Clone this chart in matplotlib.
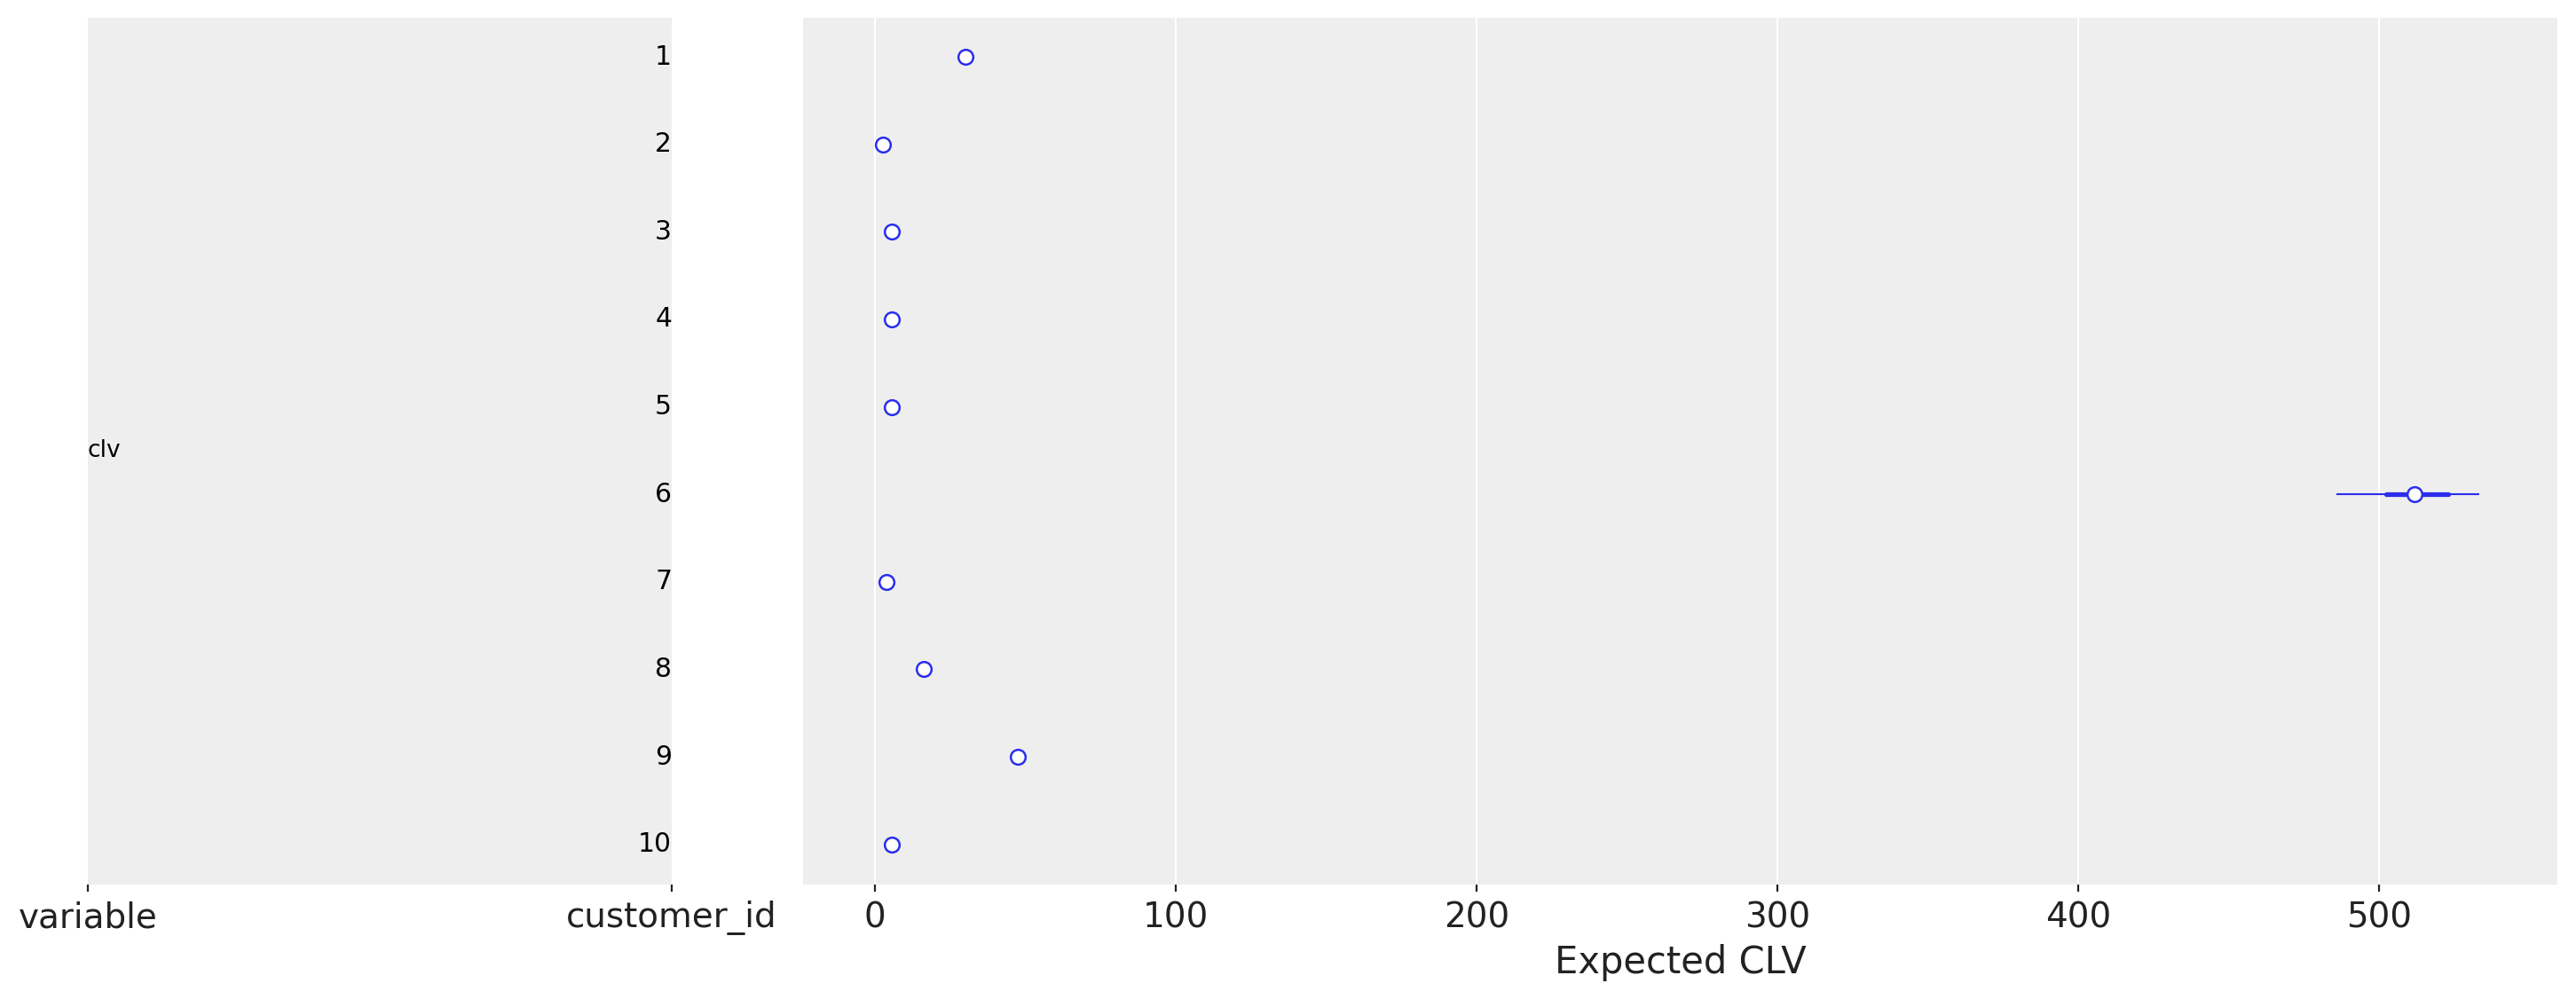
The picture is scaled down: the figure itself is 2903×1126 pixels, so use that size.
import matplotlib.pyplot as plt
import numpy as np

# expected customer lifetime value, posterior summary per customer
customer_ids = ["1", "2", "3", "4", "5", "6", "7", "8", "9", "10"]
clv_median = [30.0, 2.7, 5.5, 5.5, 5.5, 511.8, 3.8, 16.4, 47.5, 5.5]
hdi94_low = [29.6, 2.5, 5.3, 5.3, 5.3, 485.8, 3.6, 16.1, 47.0, 5.3]
hdi94_high = [30.4, 2.9, 5.7, 5.7, 5.7, 533.4, 4.0, 16.7, 48.0, 5.7]
hdi50_low = [29.9, 2.6, 5.4, 5.4, 5.4, 502.4, 3.7, 16.3, 47.3, 5.4]
hdi50_high = [30.1, 2.8, 5.6, 5.6, 5.6, 523.0, 3.9, 16.5, 47.7, 5.6]
var_name = "clv"
col_labels = ["variable", "customer_id"]
x_ticks = [0, 100, 200, 300, 400, 500]

BG = "#eeeeee"
BLUE = "#2a2eec"
TXT = "#222222"

fig = plt.figure(figsize=(14.515, 5.63), dpi=200)
ax_lab = fig.add_axes([0.0341, 0.1146, 0.2267, 0.8676])
ax = fig.add_axes([0.3117, 0.1146, 0.6811, 0.8676])

n = len(customer_ids)
ypos = np.arange(n)
ylim = (n - 1 + 0.459, -0.446)

# label panel
ax_lab.set_facecolor(BG)
for s in ax_lab.spines.values():
    s.set_visible(False)
ax_lab.set_xlim(0, 1)
ax_lab.set_ylim(*ylim)
ax_lab.set_yticks([])
ax_lab.set_xticks([0, 1])
ax_lab.set_xticklabels(col_labels, fontsize=14, color=TXT)
ax_lab.tick_params(axis="x", length=2.9, width=0.8, pad=3.6, color=TXT)
for y, cid in zip(ypos, customer_ids):
    ax_lab.text(1, y, cid, ha="right", va="center", fontsize=10.7, color="black")
ax_lab.text(0, ypos.mean(), var_name, ha="left", va="center", fontsize=9.5, color="black")

# forest panel
ax.set_facecolor(BG)
for s in ax.spines.values():
    s.set_visible(False)
ax.set_axisbelow(True)
ax.grid(axis="x", color="white", linewidth=0.75)
ax.hlines(ypos, hdi94_low, hdi94_high, color=BLUE, linewidth=0.75)
ax.hlines(ypos, hdi50_low, hdi50_high, color=BLUE, linewidth=1.9, capstyle="round")
ax.plot(clv_median, ypos, "o", markersize=6, markerfacecolor="white",
        markeredgecolor=BLUE, markeredgewidth=0.9, linestyle="none", zorder=3)
ax.set_xlim(-23.9, 559.3)
ax.set_ylim(*ylim)
ax.set_yticks([])
ax.set_xticks(x_ticks)
ax.tick_params(axis="x", labelsize=14, labelcolor=TXT, length=2.9, width=0.8,
               pad=3.6, color=TXT)
ax.set_xlabel("Expected CLV", fontsize=15, color=TXT, labelpad=4)

fig.savefig("out.png", dpi=200)
